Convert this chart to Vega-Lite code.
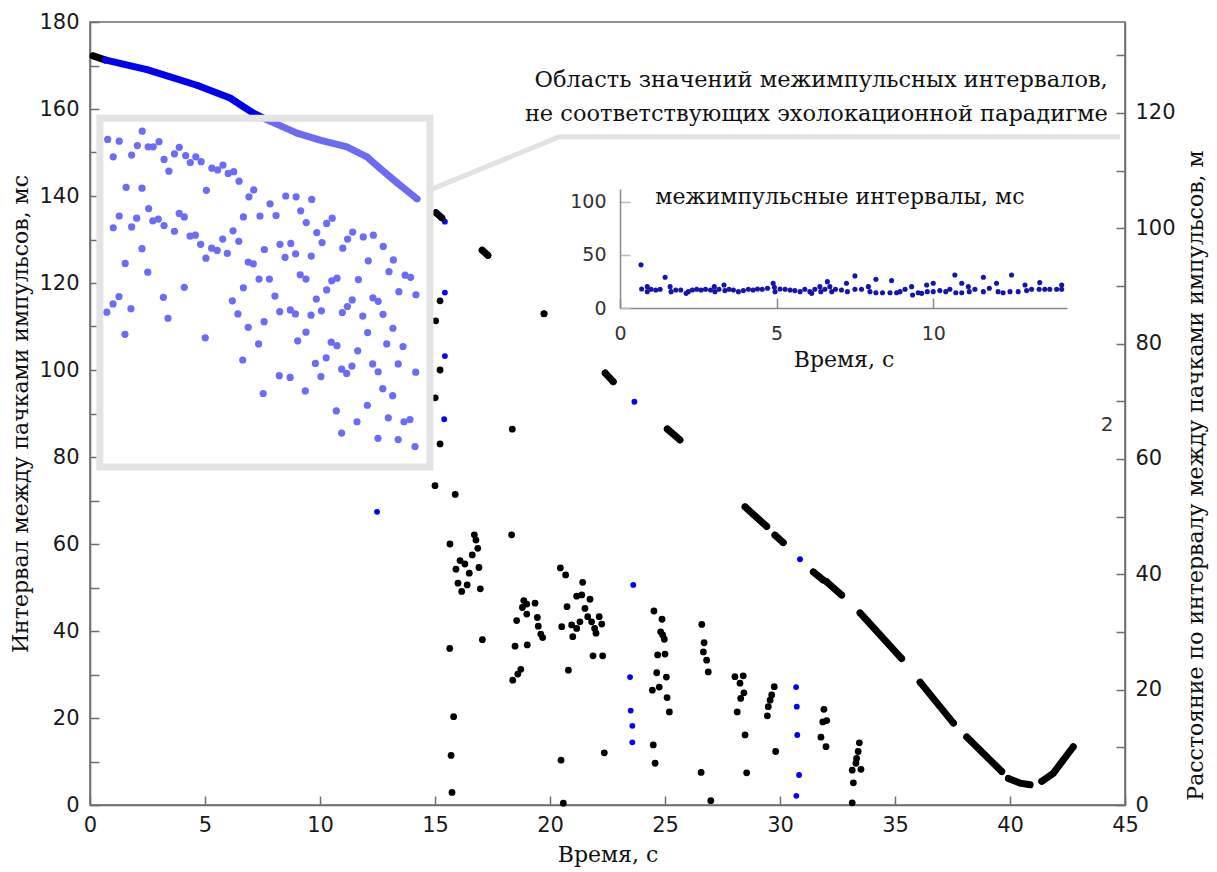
{
"$schema": "https://vega.github.io/schema/vega-lite/v6.json",
"width": 1035, "height": 783,
"autosize": "none",
"padding": {"left": 90, "top": 22, "right": 92, "bottom": 67},
"background": "white",
"config": {
 "view": {"stroke": "#6e6e6e", "strokeWidth": 1.5},
 "axis": {"domainColor": "#6e6e6e", "domainWidth": 1.5, "tickColor": "#6e6e6e", "tickWidth": 1.5, "grid": false,
  "labelFont": "DejaVu Sans", "labelFontSize": 21, "labelColor": "#1a1a1a", "labelFlush": false, "labelOverlap": false,
  "titleFont": "DejaVu Serif", "titleFontSize": 22, "titleFontWeight": "normal", "titleColor": "#111111"}
},
"datasets": {
 "boxpts": [
  {"t":0.77,"v":153.0},{"t":1.27,"v":152.6},{"t":1.01,"v":149.0},{"t":1.81,"v":149.4},{"t":2.27,"v":154.9},{"t":2.06,"v":151.6},{"t":2.53,"v":151.3},{"t":2.75,"v":151.3},{"t":3.00,"v":152.5},{"t":3.22,"v":148.4},{"t":3.67,"v":149.7},{"t":3.88,"v":151.2},{"t":4.16,"v":149.3},{"t":4.36,"v":147.7},{"t":4.60,"v":149.0},{"t":4.83,"v":147.9},{"t":3.43,"v":145.7},{"t":1.57,"v":142.0},{"t":2.26,"v":141.8},{"t":5.06,"v":141.3},{"t":5.30,"v":146.4},{"t":5.55,"v":146.0},{"t":5.78,"v":147.1},{"t":6.01,"v":145.2},{"t":6.25,"v":145.6},{"t":6.48,"v":143.4},{"t":6.91,"v":139.8},{"t":7.12,"v":141.4},{"t":7.83,"v":138.2},{"t":8.51,"v":140.0},{"t":8.96,"v":139.8},{"t":9.16,"v":136.6},{"t":9.64,"v":139.2},{"t":2.55,"v":137.1},{"t":1.27,"v":135.4},{"t":2.03,"v":134.9},{"t":3.88,"v":136.0},{"t":4.10,"v":135.2},{"t":6.67,"v":135.2},{"t":7.39,"v":135.4},{"t":8.09,"v":135.5},{"t":10.53,"v":134.9},
  {"t":1.01,"v":132.7},{"t":1.81,"v":132.9},{"t":2.73,"v":134.3},{"t":2.97,"v":134.7},{"t":3.22,"v":133.2},{"t":3.67,"v":131.9},{"t":4.35,"v":130.8},{"t":4.58,"v":131.0},{"t":4.81,"v":128.9},{"t":5.04,"v":125.7},{"t":5.29,"v":128.0},{"t":5.53,"v":127.5},{"t":5.77,"v":130.1},{"t":5.97,"v":126.8},{"t":6.22,"v":132.0},{"t":6.47,"v":129.6},{"t":6.88,"v":124.8},{"t":7.10,"v":124.4},{"t":7.58,"v":127.7},{"t":8.26,"v":128.9},{"t":8.48,"v":125.9},{"t":8.73,"v":129.1},{"t":8.94,"v":126.7},{"t":9.40,"v":133.9},{"t":9.62,"v":126.2},{"t":9.86,"v":131.6},{"t":10.09,"v":129.3},{"t":10.29,"v":133.7},{"t":10.99,"v":128.0},{"t":11.20,"v":130.1},{"t":11.42,"v":131.7},{"t":11.88,"v":130.6},{"t":12.32,"v":131.0},{"t":12.75,"v":128.4},{"t":12.10,"v":125.1},{"t":13.19,"v":125.3},{"t":13.00,"v":122.6},{"t":13.70,"v":121.8},{"t":13.94,"v":121.3},{"t":1.53,"v":124.5},{"t":2.26,"v":127.9},{"t":2.51,"v":122.5},{"t":4.10,"v":119.0},{"t":3.19,"v":116.7},{"t":3.39,"v":111.9},{"t":0.73,"v":113.3},{"t":1.00,"v":115.2},{"t":1.26,"v":116.9},{"t":1.78,"v":114.1},{"t":1.52,"v":108.2},{"t":5.01,"v":107.4},{"t":6.19,"v":115.9},{"t":6.43,"v":112.9},{"t":6.67,"v":118.9},{"t":6.88,"v":109.8},{"t":7.35,"v":120.9},{"t":7.80,"v":120.9},{"t":7.57,"v":111.1},{"t":7.33,"v":106.0},{"t":6.64,"v":102.3},{"t":8.04,"v":117.0},{"t":8.25,"v":113.4},{"t":8.71,"v":113.8},{"t":8.93,"v":112.9},{"t":9.14,"v":121.9},{"t":9.39,"v":120.9},{"t":9.61,"v":112.6},{"t":9.84,"v":116.3},{"t":10.06,"v":113.6},{"t":10.29,"v":118.4},{"t":10.51,"v":120.5},{"t":10.74,"v":121.1},{"t":11.67,"v":120.8},{"t":11.40,"v":116.1},{"t":11.19,"v":114.6},{"t":10.97,"v":113.2},{"t":11.86,"v":112.4},{"t":12.30,"v":116.6},{"t":12.53,"v":115.8},{"t":12.74,"v":112.8},{"t":13.43,"v":118.0},{"t":14.17,"v":117.3},{"t":13.17,"v":109.6},{"t":12.07,"v":108.6},{"t":9.39,"v":108.7},{"t":9.03,"v":106.7},{"t":10.49,"v":106.4},{"t":10.74,"v":105.6},{"t":12.90,"v":106.0},{"t":13.61,"v":105.4},{"t":11.64,"v":104.4},{"t":10.27,"v":102.8},{"t":9.80,"v":101.5},{"t":10.04,"v":98.5},{"t":10.94,"v":100.2},{"t":11.16,"v":99.2},{"t":11.39,"v":100.9},{"t":12.29,"v":101.4},{"t":12.53,"v":99.6},{"t":13.40,"v":101.4},{"t":14.16,"v":99.5},{"t":8.23,"v":98.7},{"t":8.70,"v":98.3},{"t":9.36,"v":95.2},{"t":7.53,"v":94.6},{"t":12.73,"v":95.7},{"t":13.16,"v":94.1},{"t":12.06,"v":91.9},{"t":10.71,"v":90.6},{"t":11.61,"v":88.1},{"t":12.97,"v":89.0},{"t":13.65,"v":88.1},{"t":13.91,"v":88.6},{"t":10.94,"v":85.5},{"t":12.52,"v":84.3},{"t":13.40,"v":84.0},{"t":14.13,"v":82.4}
 ],
 "blue": [
  {"t":15.43,"v":134.1},{"t":15.43,"v":117.8},{"t":15.43,"v":103.2},{"t":15.40,"v":88.7},{"t":12.48,"v":67.4},
  {"t":23.67,"v":92.7},{"t":23.62,"v":50.6},{"t":23.48,"v":29.4},{"t":23.51,"v":21.7},{"t":23.58,"v":18.2},{"t":23.58,"v":14.4},
  {"t":30.87,"v":56.5},{"t":30.70,"v":27.1},{"t":30.73,"v":22.6},{"t":30.75,"v":16.1},{"t":30.83,"v":6.9},{"t":30.71,"v":2.1}
 ],
 "black": [
  {"t":15.22,"v":115.9},{"t":15.03,"v":111.3},{"t":15.22,"v":100.0},{"t":15.01,"v":93.6},{"t":15.22,"v":83.0},{"t":15.00,"v":73.4},{"t":15.88,"v":71.4},
  {"t":15.65,"v":60.0},{"t":16.71,"v":62.1},{"t":16.78,"v":60.9},{"t":16.86,"v":59.0},{"t":16.62,"v":57.5},{"t":16.09,"v":56.2},{"t":16.30,"v":55.4},{"t":15.91,"v":54.2},{"t":16.49,"v":53.3},{"t":16.91,"v":54.6},{"t":16.00,"v":51.0},{"t":16.40,"v":50.6},{"t":16.16,"v":49.1},{"t":16.97,"v":49.7},
  {"t":18.33,"v":62.1},{"t":15.64,"v":36.0},{"t":17.06,"v":38.0},{"t":15.81,"v":20.3},{"t":15.70,"v":11.4},{"t":15.74,"v":2.9},{"t":18.36,"v":86.4},
  {"t":18.86,"v":47.0},{"t":18.80,"v":45.4},{"t":18.99,"v":46.2},{"t":19.35,"v":46.4},{"t":18.99,"v":43.9},{"t":18.55,"v":42.4},{"t":19.45,"v":43.1},{"t":19.49,"v":41.1},{"t":19.60,"v":39.3},{"t":19.68,"v":38.5},{"t":18.48,"v":36.5},{"t":19.01,"v":36.8},{"t":18.73,"v":31.2},{"t":18.60,"v":30.1},{"t":18.38,"v":28.7},
  {"t":20.45,"v":54.5},{"t":20.68,"v":52.9},{"t":21.42,"v":51.2},{"t":21.16,"v":48.0},{"t":21.38,"v":48.3},{"t":21.74,"v":47.3},{"t":20.74,"v":45.6},{"t":21.52,"v":45.2},{"t":21.64,"v":43.3},{"t":21.81,"v":42.1},{"t":22.14,"v":43.3},{"t":22.25,"v":41.6},{"t":21.94,"v":40.6},{"t":22.00,"v":39.5},{"t":21.30,"v":42.1},{"t":20.94,"v":41.4},{"t":20.51,"v":41.0},{"t":21.16,"v":40.6},{"t":20.99,"v":38.7},{"t":21.87,"v":34.3},{"t":22.29,"v":34.3},{"t":20.80,"v":31.0},{"t":20.48,"v":10.3},{"t":22.36,"v":12.0},{"t":20.58,"v":0.4},
  {"t":24.52,"v":44.6},{"t":24.87,"v":42.7},{"t":24.81,"v":39.8},{"t":24.90,"v":39.1},{"t":24.97,"v":38.1},{"t":24.68,"v":34.5},{"t":25.00,"v":34.7},{"t":24.64,"v":30.4},{"t":25.06,"v":29.4},{"t":24.75,"v":27.1},{"t":24.45,"v":26.4},{"t":25.09,"v":24.7},{"t":25.19,"v":21.4},{"t":24.49,"v":13.8},{"t":24.57,"v":9.6},
  {"t":26.60,"v":41.5},{"t":26.70,"v":37.3},{"t":26.67,"v":35.2},{"t":26.81,"v":33.3},{"t":26.88,"v":30.6},{"t":26.57,"v":7.5},{"t":26.99,"v":1.0},
  {"t":28.04,"v":29.5},{"t":28.40,"v":29.7},{"t":28.26,"v":28.0},{"t":28.43,"v":25.8},{"t":28.29,"v":24.5},{"t":28.14,"v":21.4},{"t":28.48,"v":16.1},{"t":28.55,"v":7.4},
  {"t":29.75,"v":27.2},{"t":29.64,"v":25.3},{"t":29.57,"v":24.1},{"t":29.49,"v":22.6},{"t":29.45,"v":20.5},{"t":29.81,"v":12.3},
  {"t":31.91,"v":22.0},{"t":31.86,"v":19.1},{"t":32.03,"v":19.4},{"t":31.78,"v":15.6},{"t":32.00,"v":13.4},
  {"t":33.45,"v":14.3},{"t":33.40,"v":12.3},{"t":33.33,"v":10.7},{"t":33.30,"v":9.6},{"t":33.14,"v":8.0},{"t":33.52,"v":8.2},{"t":33.19,"v":5.1},{"t":33.14,"v":0.5}
 ],
 "dist": [
  {"t":0.13,"m":129.9,"seg":"a","c":"k"},{"t":0.43,"m":129.5,"seg":"a","c":"k"},{"t":0.65,"m":129.2,"seg":"a","c":"k"},
  {"t":0.65,"m":129.2,"seg":"b","c":"b"},{"t":2.48,"m":127.5,"seg":"b","c":"b"},{"t":4.65,"m":124.8,"seg":"b","c":"b"},{"t":6.09,"m":122.6,"seg":"b","c":"b"},{"t":7.09,"m":120.0,"seg":"b","c":"b"},{"t":7.70,"m":118.8,"seg":"b","c":"b"},{"t":9.00,"m":116.5,"seg":"b","c":"b"},{"t":10.00,"m":115.3,"seg":"b","c":"b"},{"t":11.17,"m":114.1,"seg":"b","c":"b"},{"t":12.04,"m":112.4,"seg":"b","c":"b"},{"t":12.61,"m":110.4,"seg":"b","c":"b"},{"t":13.35,"m":107.9,"seg":"b","c":"b"},{"t":14.22,"m":105.1,"seg":"b","c":"b"},
  {"t":15.04,"m":102.7,"seg":"c","c":"k"},{"t":15.30,"m":101.8,"seg":"c","c":"k"},
  {"t":17.05,"m":96.2,"seg":"d","c":"k"},{"t":17.30,"m":95.3,"seg":"d","c":"k"},
  {"t":19.74,"m":85.2,"seg":"e","c":"k"},
  {"t":22.40,"m":74.9,"seg":"f","c":"k"},{"t":22.75,"m":73.4,"seg":"f","c":"k"},
  {"t":25.10,"m":65.2,"seg":"g","c":"k"},{"t":25.65,"m":63.3,"seg":"g","c":"k"},
  {"t":28.48,"m":51.7,"seg":"h","c":"k"},{"t":29.42,"m":48.3,"seg":"h","c":"k"},
  {"t":29.78,"m":46.8,"seg":"i","c":"k"},{"t":30.14,"m":45.5,"seg":"i","c":"k"},
  {"t":31.45,"m":40.4,"seg":"j","c":"k"},{"t":31.88,"m":39.0,"seg":"j","c":"k"},
  {"t":32.03,"m":38.7,"seg":"k","c":"k"},{"t":32.68,"m":36.4,"seg":"k","c":"k"},
  {"t":33.48,"m":33.3,"seg":"l","c":"k"},{"t":35.29,"m":25.4,"seg":"l","c":"k"},
  {"t":36.09,"m":21.3,"seg":"m","c":"k"},{"t":37.54,"m":14.2,"seg":"m","c":"k"},
  {"t":38.12,"m":11.8,"seg":"n","c":"k"},{"t":39.64,"m":5.8,"seg":"n","c":"k"},
  {"t":39.93,"m":4.6,"seg":"o","c":"k"},{"t":40.43,"m":3.8,"seg":"o","c":"k"},{"t":40.87,"m":3.5,"seg":"o","c":"k"},
  {"t":41.38,"m":4.1,"seg":"p","c":"k"},{"t":41.88,"m":5.5,"seg":"p","c":"k"},{"t":42.75,"m":10.1,"seg":"p","c":"k"}
 ],
 "inset": [
  {"t":0.67,"v":40.6},{"t":1.44,"v":29.0},
  {"t":0.69,"v":17.9},{"t":0.87,"v":20.1},{"t":0.87,"v":15.4},{"t":0.99,"v":17.6},{"t":1.14,"v":17.0},{"t":1.28,"v":17.6},{"t":1.60,"v":20.1},{"t":1.63,"v":15.4},{"t":1.78,"v":17.0},{"t":1.94,"v":17.0},{"t":2.11,"v":13.8},{"t":2.18,"v":15.4},{"t":2.31,"v":17.0},{"t":2.45,"v":17.6},{"t":2.59,"v":17.0},{"t":2.73,"v":17.6},{"t":2.89,"v":17.0},{"t":3.01,"v":20.1},{"t":3.03,"v":15.4},{"t":3.16,"v":17.6},{"t":3.32,"v":21.7},{"t":3.35,"v":16.4},{"t":3.48,"v":17.6},{"t":3.62,"v":17.0},{"t":3.78,"v":15.4},{"t":3.94,"v":16.4},{"t":4.10,"v":17.6},{"t":4.25,"v":17.0},{"t":4.39,"v":17.9},{"t":4.54,"v":17.6},{"t":4.71,"v":18.6},{"t":4.89,"v":23.3},{"t":4.93,"v":19.5},{"t":4.95,"v":15.4},{"t":5.11,"v":17.9},{"t":5.27,"v":17.6},{"t":5.43,"v":17.0},{"t":5.58,"v":16.4},{"t":5.75,"v":15.4},{"t":5.90,"v":17.6},{"t":6.06,"v":15.4},{"t":6.12,"v":13.8},{"t":6.22,"v":17.6},{"t":6.38,"v":20.1},{"t":6.41,"v":15.4},{"t":6.54,"v":17.6},{"t":6.62,"v":24.8},{"t":6.70,"v":20.1},{"t":6.76,"v":15.4},{"t":6.88,"v":17.6},{"t":7.07,"v":17.0},
  {"t":7.23,"v":23.3},{"t":7.26,"v":15.4},{"t":7.50,"v":30.2},{"t":7.50,"v":17.6},{"t":7.71,"v":17.6},{"t":7.93,"v":20.1},{"t":7.98,"v":15.4},{"t":8.17,"v":27.1},{"t":8.17,"v":14.4},{"t":8.38,"v":14.4},{"t":8.62,"v":14.4},{"t":8.67,"v":25.8},{"t":8.83,"v":14.4},{"t":8.94,"v":15.4},{"t":9.10,"v":17.6},{"t":9.31,"v":20.1},{"t":9.34,"v":12.3},{"t":9.52,"v":14.4},{"t":9.63,"v":13.8},{"t":9.79,"v":21.7},{"t":9.81,"v":15.4},{"t":10.00,"v":23.3},{"t":10.00,"v":15.4},{"t":10.21,"v":16.4},{"t":10.40,"v":15.4},{"t":10.53,"v":17.6},{"t":10.69,"v":31.1},{"t":10.72,"v":14.4},{"t":10.91,"v":23.3},{"t":10.91,"v":14.4},{"t":11.12,"v":20.1},{"t":11.15,"v":15.4},{"t":11.33,"v":17.6},{"t":11.60,"v":29.0},{"t":11.60,"v":15.4},{"t":11.79,"v":18.6},{"t":12.02,"v":23.3},{"t":12.07,"v":15.4},{"t":12.23,"v":14.4},{"t":12.45,"v":15.4},{"t":12.50,"v":31.1},{"t":12.71,"v":15.4},{"t":12.93,"v":21.7},{"t":12.98,"v":16.4},{"t":13.14,"v":17.6},{"t":13.38,"v":17.6},{"t":13.40,"v":23.9},{"t":13.56,"v":17.6},{"t":13.72,"v":17.6},{"t":13.94,"v":17.6},{"t":14.10,"v":21.7},{"t":14.10,"v":17.6}
 ],
 "box": [{"x1":0.43,"x2":14.78,"y1":77.7,"y2":157.9}],
 "callout": [{"t":14.78,"v":141.4,"o":1},{"t":20.4,"v":153.6,"o":2},{"t":44.78,"v":153.6,"o":3}],
 "notes": [
  {"t":44.25,"v":166.7,"text":"Область значений межимпульсных интервалов,"},
  {"t":44.25,"v":158.9,"text":"не  соответствующих эхолокационной парадигме"}
 ],
 "mark2": [{"t":44.22,"v":87.4,"text":"2"}],
 "insetTitle": [{"t":7.02,"v":104.7,"text":"межимпульсные интервалы, мс"}]
},
"layer": [
 {
  "encoding": {
   "x": {"field": "t", "type": "quantitative",
    "scale": {"domain": [0, 45], "nice": false, "zero": false},
    "axis": {"orient": "bottom", "values": [0,5,10,15,20,25,30,35,40,45], "tickSize": -9, "labelPadding": 18, "title": "Время, с", "titlePadding": 9}},
   "y": {"field": "v", "type": "quantitative",
    "scale": {"domain": [0, 180], "nice": false, "zero": false},
    "axis": {"orient": "left", "values": [0,10,20,30,40,50,60,70,80,90,100,110,120,130,140,150,160,170,180],
     "labelExpr": "datum.value % 20 === 0 ? datum.label : ''", "tickSize": -9, "labelPadding": 20,
     "title": "Интервал между пачками импульсов, мс", "titlePadding": 6}}
  },
  "layer": [
   {"data": {"name": "boxpts"}, "mark": {"type": "circle", "size": 52, "color": "#0000ff", "opacity": 1}},
   {"data": {"name": "blue"}, "mark": {"type": "circle", "size": 34, "color": "#0000ff", "opacity": 1}},
   {"data": {"name": "black"}, "mark": {"type": "circle", "size": 46, "color": "#000000", "opacity": 1}}
  ]
 },
 {
  "data": {"name": "dist"},
  "encoding": {
   "x": {"field": "t", "type": "quantitative", "scale": {"domain": [0, 45], "nice": false, "zero": false}, "axis": null},
   "y": {"field": "m", "type": "quantitative",
    "scale": {"domain": [0, 135.77], "nice": false, "zero": false},
    "axis": {"orient": "right", "values": [0,10,20,30,40,50,60,70,80,90,100,110,120,130],
     "labelExpr": "datum.value % 20 === 0 ? datum.label : ''", "tickSize": -9, "labelPadding": 19,
     "title": "Расстояние по интервалу между пачками импульсов, м", "titleAngle": 270, "titleBaseline": "top", "titlePadding": 10, "titleY": 453}},
   "color": {"field": "c", "type": "nominal", "scale": {"domain": ["k", "b"], "range": ["#000000", "#0000f0"]}, "legend": null}
  },
  "layer": [
   {"mark": {"type": "line", "strokeWidth": 7, "strokeCap": "round", "strokeJoin": "round"}, "encoding": {"detail": {"field": "seg"}}},
   {"mark": {"type": "circle", "size": 42, "opacity": 1}}
  ]
 },
 {
  "layer": [
   {"data": {"name": "box"}, "mark": {"type": "rect", "fill": "#ffffff", "fillOpacity": 0.42, "stroke": "#e4e4e4", "strokeWidth": 7, "strokeOpacity": 1},
    "encoding": {
     "x": {"field": "x1", "type": "quantitative", "scale": {"domain": [0, 45], "nice": false, "zero": false}, "axis": null},
     "x2": {"field": "x2"},
     "y": {"field": "y1", "type": "quantitative", "scale": {"domain": [0, 180], "nice": false, "zero": false}, "axis": null},
     "y2": {"field": "y2"}}},
   {"data": {"name": "callout"}, "mark": {"type": "line", "color": "#e2e2e2", "strokeWidth": 5},
    "encoding": {
     "x": {"field": "t", "type": "quantitative", "scale": {"domain": [0, 45], "nice": false, "zero": false}, "axis": null},
     "y": {"field": "v", "type": "quantitative", "scale": {"domain": [0, 180], "nice": false, "zero": false}, "axis": null},
     "order": {"field": "o"}}},
   {"data": {"name": "notes"}, "mark": {"type": "text", "align": "right", "baseline": "middle", "font": "DejaVu Serif", "fontSize": 22.5, "color": "#111111"},
    "encoding": {
     "x": {"field": "t", "type": "quantitative", "scale": {"domain": [0, 45], "nice": false, "zero": false}, "axis": null},
     "y": {"field": "v", "type": "quantitative", "scale": {"domain": [0, 180], "nice": false, "zero": false}, "axis": null},
     "text": {"field": "text"}}},
   {"data": {"name": "mark2"}, "mark": {"type": "text", "align": "center", "baseline": "middle", "font": "DejaVu Sans", "fontSize": 20, "color": "#333333"},
    "encoding": {
     "x": {"field": "t", "type": "quantitative", "scale": {"domain": [0, 45], "nice": false, "zero": false}, "axis": null},
     "y": {"field": "v", "type": "quantitative", "scale": {"domain": [0, 180], "nice": false, "zero": false}, "axis": null},
     "text": {"field": "text"}}}
  ]
 },
 {
  "encoding": {
   "x": {"field": "t", "type": "quantitative",
    "scale": {"domain": [0, 14.27], "range": [530, 977], "nice": false, "zero": false},
    "axis": {"orient": "bottom", "offset": -497, "values": [0, 5, 10], "tickSize": -10, "labelPadding": 26, "labelFontSize": 19, "labelColor": "#333333",
     "domainColor": "#8a8a8a", "tickColor": "#8a8a8a", "title": "Время, с", "titlePadding": 6}},
   "y": {"field": "v", "type": "quantitative",
    "scale": {"domain": [0, 112], "range": [286, 167], "nice": false, "zero": false},
    "axis": {"orient": "left", "offset": -530, "values": [0, 50, 100], "tickSize": -10, "labelPadding": 24, "labelFontSize": 19, "labelColor": "#333333",
     "domainColor": "#8a8a8a", "tickColor": "#bdbdbd", "title": null}}
  },
  "layer": [
   {"data": {"name": "inset"}, "mark": {"type": "circle", "size": 26, "color": "#1414b4", "opacity": 1}},
   {"data": {"name": "insetTitle"}, "mark": {"type": "text", "align": "center", "baseline": "middle", "font": "DejaVu Serif", "fontSize": 22, "color": "#111111"},
    "encoding": {"text": {"field": "text"}}}
  ]
 }
],
"resolve": {"scale": {"x": "independent", "y": "independent"}, "axis": {"x": "independent", "y": "independent"}}
}
